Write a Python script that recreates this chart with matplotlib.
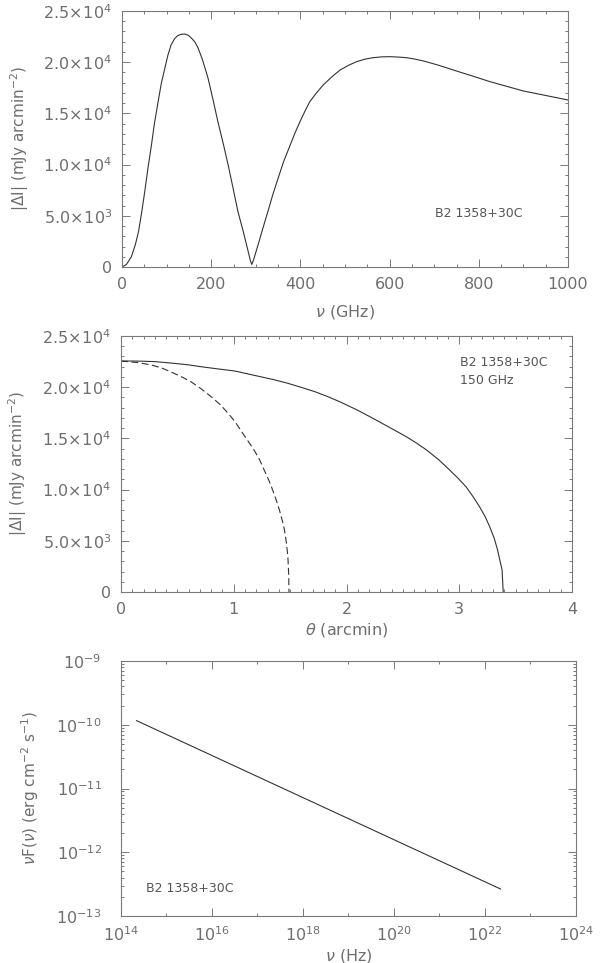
import numpy as np
import matplotlib
matplotlib.use("Agg")
import matplotlib.pyplot as plt
from matplotlib.ticker import MultipleLocator, FixedLocator, LogLocator, NullFormatter

# Panel 1: SZ spectrum |dI| vs frequency
nu_ghz = [0, 10, 21, 30, 37, 44, 51, 58, 66, 73, 81, 88, 96, 103, 110, 118,
          125, 132, 140, 148, 155, 163, 170, 180, 193, 204, 215, 227, 238, 249,
          260, 272, 283, 288, 291, 295, 305, 316, 327, 338, 350, 362, 377, 388,
          399, 410, 421, 436, 451, 470, 489, 508, 526, 545, 563, 582, 601, 620,
          638, 657, 676, 694, 713, 750, 788, 825, 862, 900, 950, 1000]
dI_nu = [0, 250, 1000, 2200, 3450, 5300, 7350, 9600, 11900, 14100, 16140, 17900,
         19400, 20700, 21680, 22300, 22600, 22720, 22750, 22650, 22380, 22000,
         21450, 20300, 18430, 16350, 14190, 12050, 9960, 7700, 5400, 3450, 1500,
         600, 250, 700, 2150, 3800, 5400, 7050, 8660, 10250, 11900, 13100, 14190,
         15200, 16140, 17000, 17770, 18550, 19240, 19700, 20050, 20300, 20440,
         20520, 20540, 20500, 20440, 20300, 20120, 19900, 19660, 19140, 18620,
         18100, 17650, 17190, 16750, 16310]

# Panel 2: radial profiles at 150 GHz
theta_solid = [0, 0.15, 0.30, 0.47, 0.60, 0.71, 0.85, 1.01, 1.21, 1.35, 1.48,
               1.60, 1.72, 1.83, 1.94, 2.09, 2.235, 2.38, 2.53, 2.62, 2.71, 2.82,
               2.915, 2.99, 3.06, 3.12, 3.18, 3.23, 3.27, 3.31, 3.34, 3.36, 3.38,
               3.385, 3.39]
dI_solid = [22560, 22550, 22500, 22330, 22180, 22000, 21800, 21580, 21090, 20750,
            20380, 19980, 19560, 19100, 18580, 17800, 16960, 16080, 15170, 14550,
            13870, 12900, 11910, 11100, 10280, 9350, 8330, 7350, 6380, 5250, 4100,
            3100, 2150, 1000, 0]
theta_dash = [0, 0.15, 0.27, 0.36, 0.44, 0.53, 0.62, 0.71, 0.80, 0.88, 0.95, 1.01,
              1.06, 1.12, 1.18, 1.23, 1.27, 1.31, 1.345, 1.377, 1.405, 1.43, 1.45,
              1.467, 1.48, 1.487, 1.49]
dI_dash = [22560, 22400, 22170, 21880, 21510, 21050, 20540, 19850, 19070, 18300,
           17450, 16650, 15820, 14850, 13870, 12900, 11910, 10950, 9960, 8980,
           8010, 7000, 6050, 4800, 3450, 1800, 0]

# Panel 3: power-law nuF(nu)
nu_hz = [2.2e14, 2.2e22]
nuF = [1.16e-10, 2.65e-13]

lin_yticks = [0, 5000, 10000, 15000, 20000, 25000]
lin_ylabels = ['0', r'$5.0\!\times\!10^{3}$', r'$1.0\!\times\!10^{4}$', r'$1.5\!\times\!10^{4}$',
               r'$2.0\!\times\!10^{4}$', r'$2.5\!\times\!10^{4}$']
log_xticks = [1e14, 1e16, 1e18, 1e20, 1e22, 1e24]
log_xlabels = [r'$10^{14}$', r'$10^{16}$', r'$10^{18}$', r'$10^{20}$', r'$10^{22}$', r'$10^{24}$']
log_yticks = [1e-13, 1e-12, 1e-11, 1e-10, 1e-9]
log_ylabels = [r'$10^{-13}$', r'$10^{-12}$', r'$10^{-11}$', r'$10^{-10}$', r'$10^{-9}$']
source = 'B2 1358+30C'

plt.rcParams['mathtext.fontset'] = 'dejavusans'
plt.rcParams['lines.scale_dashes'] = False

TXT = '#6e6e6e'
AX = '#7a7a7a'
LN = '#333333'

fig = plt.figure(figsize=(6.0, 9.63), dpi=100)
H = 963.0


def make_axes(left, top, right, bottom):
    return fig.add_axes([left / 600.0, (H - bottom) / H, (right - left) / 600.0, (bottom - top) / H])


def style(ax, pad=7):
    for s in ax.spines.values():
        s.set_color(AX)
        s.set_linewidth(0.8)
    ax.tick_params(which='both', direction='in', top=True, right=True,
                   color=AX, width=0.7, labelcolor=TXT, labelsize=11.5, pad=pad)
    ax.tick_params(which='major', length=5.5)
    ax.tick_params(which='minor', length=2.5)


# Top panel
ax1 = make_axes(122, 11, 568, 267)
ax1.plot(nu_ghz, dI_nu, color=LN, lw=0.8)
ax1.set_xlim(0, 1000)
ax1.set_ylim(0, 25000)
ax1.xaxis.set_major_locator(MultipleLocator(200))
ax1.xaxis.set_minor_locator(MultipleLocator(50))
ax1.set_yticks(lin_yticks)
ax1.set_yticklabels(lin_ylabels)
ax1.yaxis.set_minor_locator(MultipleLocator(1000))
style(ax1)
ax1.set_xlabel(r'$\nu$ (GHz)', color=TXT, fontsize=11.5)
ax1.set_ylabel(r'|$\Delta$I| (mJy arcmin$^{-2}$)', color=TXT, fontsize=11)
ax1.xaxis.set_label_coords(0.5, -0.14)
ax1.yaxis.set_label_coords(-0.205, 0.5)
ax1.text(702, 5270, source, color='#555555', fontsize=9, va='center')

# Middle panel
ax2 = make_axes(121, 336, 572, 592)
ax2.plot(theta_solid, dI_solid, color=LN, lw=0.8)
ax2.plot(theta_dash, dI_dash, color=LN, lw=0.8, dashes=(5, 2.5))
ax2.set_xlim(0, 4)
ax2.set_ylim(0, 25000)
ax2.xaxis.set_major_locator(MultipleLocator(1))
ax2.xaxis.set_minor_locator(MultipleLocator(0.1))
ax2.set_yticks(lin_yticks)
ax2.set_yticklabels(lin_ylabels)
ax2.yaxis.set_minor_locator(MultipleLocator(1000))
style(ax2)
ax2.set_xlabel(r'$\theta$ (arcmin)', color=TXT, fontsize=11.5)
ax2.set_ylabel(r'|$\Delta$I| (mJy arcmin$^{-2}$)', color=TXT, fontsize=11)
ax2.xaxis.set_label_coords(0.5, -0.115)
ax2.yaxis.set_label_coords(-0.205, 0.5)
ax2.text(3.01, 22400, source, color='#555555', fontsize=9, va='center')
ax2.text(3.01, 20700, '150 GHz', color='#555555', fontsize=9, va='center')

# Bottom panel
ax3 = make_axes(121, 661, 576, 916)
ax3.plot(nu_hz, nuF, color=LN, lw=0.8)
ax3.set_xscale('log')
ax3.set_yscale('log')
ax3.set_xlim(1e14, 1e24)
ax3.set_ylim(1e-13, 1e-9)
ax3.xaxis.set_major_locator(FixedLocator(log_xticks))
ax3.xaxis.set_minor_locator(FixedLocator([10.0 ** k for k in range(15, 24, 2)]))
ax3.xaxis.set_minor_formatter(NullFormatter())
ax3.set_xticks(log_xticks)
ax3.set_xticklabels(log_xlabels)
ax3.set_yticks(log_yticks)
ax3.set_yticklabels(log_ylabels)
ax3.yaxis.set_minor_locator(LogLocator(base=10, subs=np.arange(2, 10), numticks=20))
ax3.yaxis.set_minor_formatter(NullFormatter())
style(ax3)
ax3.tick_params(axis='y', pad=14)
ax3.set_xlabel(r'$\nu$ (Hz)', color=TXT, fontsize=11.5)
ax3.set_ylabel(r'$\nu$F($\nu$) (erg cm$^{-2}$ s$^{-1}$)', color=TXT, fontsize=11)
ax3.xaxis.set_label_coords(0.5, -0.12)
ax3.yaxis.set_label_coords(-0.175, 0.5)
ax3.text(3.5e14, 2.7e-13, source, color='#555555', fontsize=9, va='center')

fig.savefig('out.png', dpi=100)
